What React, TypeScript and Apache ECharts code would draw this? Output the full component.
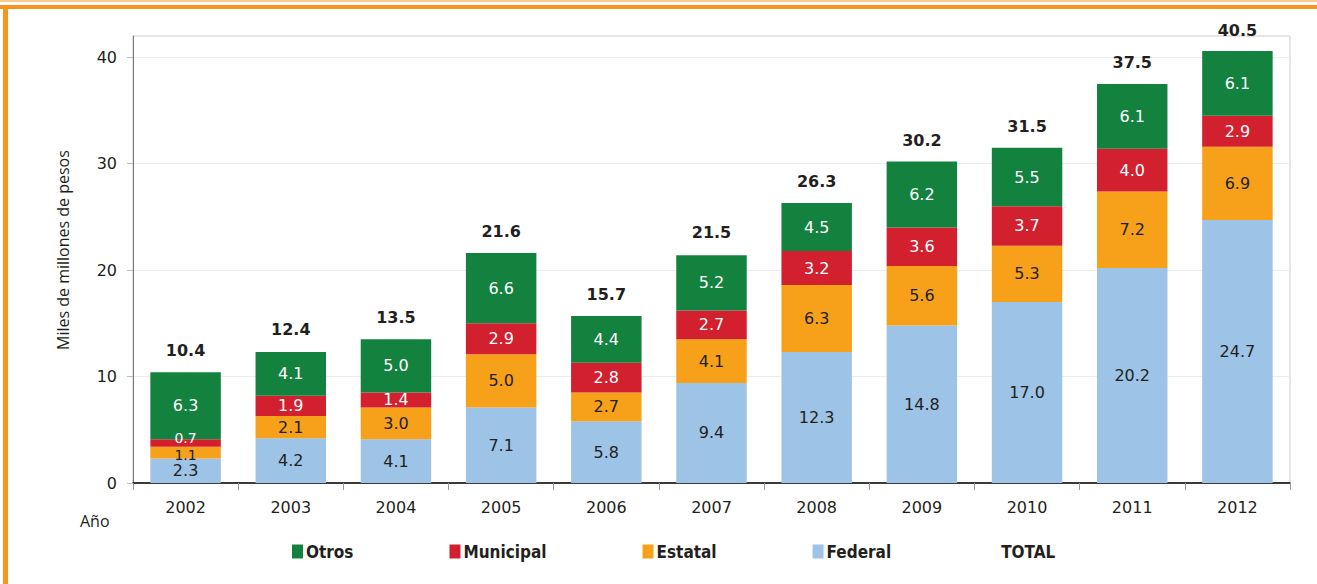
import React, { useEffect, useRef } from "react";
import * as echarts from "echarts";

const years = ["2002", "2003", "2004", "2005", "2006", "2007", "2008", "2009", "2010", "2011", "2012"];
const federal = [2.3, 4.2, 4.1, 7.1, 5.8, 9.4, 12.3, 14.8, 17.0, 20.2, 24.7];
const estatal = [1.1, 2.1, 3.0, 5.0, 2.7, 4.1, 6.3, 5.6, 5.3, 7.2, 6.9];
const municipal = [0.7, 1.9, 1.4, 2.9, 2.8, 2.7, 3.2, 3.6, 3.7, 4.0, 2.9];
const otros = [6.3, 4.1, 5.0, 6.6, 4.4, 5.2, 4.5, 6.2, 5.5, 6.1, 6.1];
const total = [10.4, 12.4, 13.5, 21.6, 15.7, 21.5, 26.3, 30.2, 31.5, 37.5, 40.5];
const yTicks = [0, 10, 20, 30, 40];

const NUM_FONT = "DejaVu Sans";

export default function App() {
  const ref = useRef<HTMLDivElement>(null);
  useEffect(() => {
    document.body.style.margin = "0";
    const chart = echarts.init(ref.current!, null, { renderer: "svg" });
    const segLabel = (color: string) => ({
      show: true,
      position: "inside" as const,
      color,
      fontFamily: NUM_FONT,
      fontSize: 16,
      formatter: (p: any) => Number(p.value).toFixed(1),
    });
    const bar = (name: string, data: any[], color: string, labelColor: string) => ({
      name,
      type: "bar" as const,
      stack: "t",
      data,
      barWidth: "67%",
      itemStyle: { color },
      label: segLabel(labelColor),
    });
    const municipalData = municipal.map((v, i) =>
      i === 0 ? { value: v, label: { offset: [0, -5], fontSize: 14, lineHeight: 11 } } : v
    );
    const estatalData = estatal.map((v, i) =>
      i === 0 ? { value: v, label: { offset: [0, 2], fontSize: 14, lineHeight: 11 } } : v
    );
    chart.setOption({
      animation: false,
      backgroundColor: "#ffffff",
      grid: { left: 133, right: 27, top: 36, bottom: 101, show: true, borderColor: "#cccccc", borderWidth: 1, backgroundColor: "transparent" },
      legend: {
        left: 287,
        top: 538,
        itemWidth: 11,
        itemHeight: 14,
        itemGap: 96,
        icon: "rect",
        textStyle: { fontFamily: "DejaVu Sans Condensed", fontWeight: "bold", fontSize: 17, color: "#231f20", padding: [0, 0, 0, -2] },
        data: [
          { name: "Otros" },
          { name: "Municipal" },
          { name: "Estatal" },
          { name: "Federal" },
          { name: "TOTAL", icon: "none" },
        ],
      },
      xAxis: {
        type: "category",
        data: years,
        axisLine: { lineStyle: { color: "#000000", width: 1.5 } },
        axisTick: { show: true, length: 7, lineStyle: { color: "#999999" } },
        axisLabel: { fontFamily: NUM_FONT, fontSize: 16, color: "#231f20", margin: 16 },
      },
      yAxis: {
        type: "value",
        min: 0,
        max: 42,
        interval: 10,
        axisLine: { show: true, lineStyle: { color: "#777777" } },
        axisTick: { show: true, inside: false, length: 6, lineStyle: { color: "#bbbbbb" }, customValues: yTicks },
        axisLabel: { fontFamily: NUM_FONT, fontSize: 16, color: "#231f20", margin: 16, customValues: yTicks },
        splitLine: { show: true, lineStyle: { color: "#ececec" } },
      },
      graphic: [
        { type: "rect", left: 0, top: 0, shape: { width: 1317, height: 2 }, style: { fill: "#fcc98c" } },
        { type: "rect", left: 0, top: 5, shape: { width: 1317, height: 4 }, style: { fill: "#f7941d" } },
        { type: "rect", left: 3, top: 5, shape: { width: 5, height: 579 }, style: { fill: "#f7941d" } },
        { type: "text", left: 80, top: 513, style: { text: "Año", font: "16px 'Open Sans'", fill: "#231f20" } },
        {
          type: "text",
          x: 63,
          y: 350,
          rotation: Math.PI / 2,
          style: { text: "Miles de millones de pesos", font: "16px 'Open Sans'", fill: "#231f20", textAlign: "left", textVerticalAlign: "middle" },
        },
      ],
      series: [
        bar("Federal", federal, "#9dc3e6", "#231f20"),
        bar("Estatal", estatalData, "#f7a11a", "#231f20"),
        bar("Municipal", municipalData, "#d2202f", "#ffffff"),
        bar("Otros", otros, "#14823f", "#ffffff"),
        {
          name: "TOTAL",
          type: "line",
          data: total,
          symbol: "circle",
          symbolSize: 1,
          showSymbol: true,
          lineStyle: { opacity: 0, width: 0 },
          itemStyle: { color: "transparent", borderWidth: 0 },
          label: {
            show: true,
            position: "top",
            distance: 13,
            fontFamily: NUM_FONT,
            fontWeight: "bold",
            fontSize: 16,
            color: "#231f20",
            formatter: (p: any) => Number(p.value).toFixed(1),
          },
          z: 10,
        },
      ],
    });
    return () => chart.dispose();
  }, []);
  return <div ref={ref} style={{ width: 1317, height: 584 }} />;
}
